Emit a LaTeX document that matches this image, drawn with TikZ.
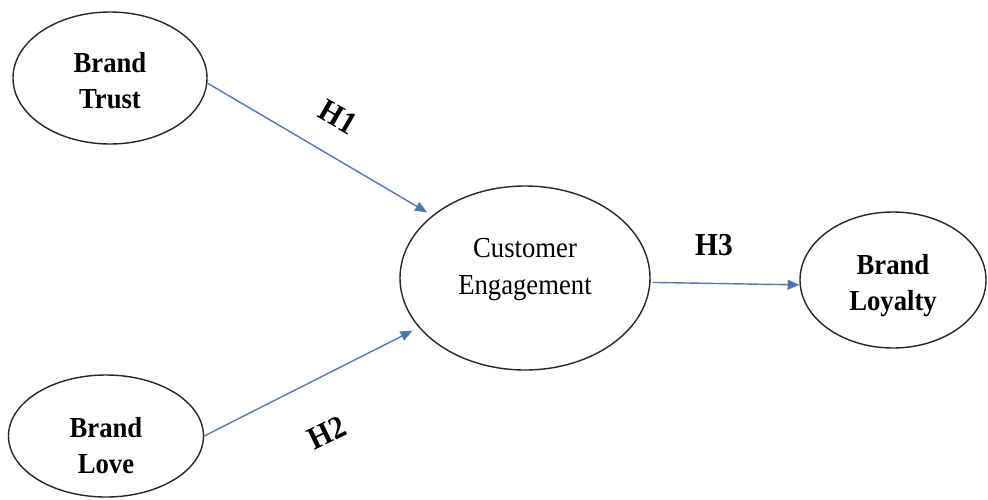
\documentclass[tikz,border=0pt]{standalone}
\usepackage{fontspec}
\setmainfont{Liberation Serif}[FakeStretch=0.92]
\usetikzlibrary{shapes.geometric,arrows.meta}
\definecolor{arrowblue}{RGB}{68,114,196}
\definecolor{lineblue}{RGB}{90,120,170}
\newcommand{\twolines}[3]{\raisebox{#1}[0pt][0pt]{\begin{tabular}{@{}c@{}}#2\\#3\end{tabular}}}
\begin{document}
\begin{tikzpicture}[x=1pt,y=-1pt,
  construct/.style={draw=black!85,line width=1.4pt,ellipse,inner sep=0pt},
  bigtext/.style={font=\fontsize{29}{36}\selectfont\bfseries},
  plaintext/.style={font=\fontsize{29}{37}\selectfont},
  hyp/.style={font=\fontsize{32}{36}\selectfont\bfseries,inner sep=0pt},
  path/.style={draw=lineblue,line width=1.4pt,-{Triangle[length=12pt,width=10pt,fill=arrowblue]}}
]
\useasboundingbox (0,0) rectangle (988,499);
\fill[white] (0,0) rectangle (988,499);

\node[construct,bigtext,minimum width=194pt,minimum height=132pt] (BT) at (110,78)
  {\twolines{-12pt}{Brand}{Trust}};
\node[construct,bigtext,minimum width=195pt,minimum height=122pt] (BL) at (106,436)
  {\twolines{-19pt}{Brand}{Love}};
\node[construct,plaintext,minimum width=250pt,minimum height=184pt] (CE) at (525,278)
  {\twolines{3pt}{Customer}{Engagement}};
\node[construct,bigtext,minimum width=186pt,minimum height=136pt] (BY) at (893,280)
  {\twolines{-12pt}{Brand}{Loyalty}};

\draw[path,shorten >=6pt] (BT.-3) -- (CE.146.6);
\draw[path,shorten >=7pt] (BL.east) -- (CE.205.7);
\draw[path,shorten <=2pt] (CE.-2) -- (BY.183);

\node[hyp,rotate=-30] (H1) at (338,117) {H1};
\node[hyp,rotate=26] (H2) at (327,433) {H2};
\node[hyp] (H3) at (714,245) {H3};
\end{tikzpicture}
\end{document}
